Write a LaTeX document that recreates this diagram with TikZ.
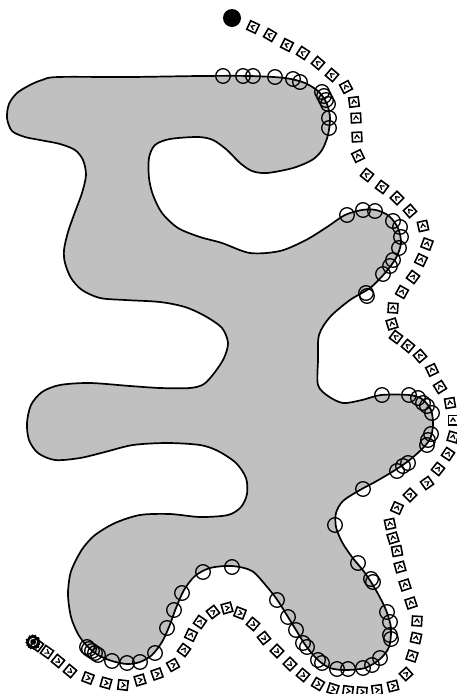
\documentclass[tikz,border=0pt]{standalone}
\definecolor{regiongray}{RGB}{192,192,192}
\tikzset{
  robot/.pic={
    \draw[line width=1.6pt] (-4.7,-4.7) rectangle (4.7,4.7);
    \draw[line width=1.2pt] (1.5,-2.4) -- (-2.0,0) -- (1.5,2.4);
  },
  contact/.style={line width=1.3pt},
  region/.style={fill=regiongray, draw=black, line width=1.7pt, line join=round},
}
\begin{document}
\begin{tikzpicture}[x=1pt,y=-1pt]
\useasboundingbox (0,0) rectangle (457,694);

% free-space region bounded by the wall
\path[region] plot[smooth cycle, tension=0.5] coordinates {
 (58,77) (130,77) (200,76) (250,76) (285,78) (305,83) (319,92) (327,104)
 (330,118) (328,135) (322,150) (312,160) (293,168) (267,173) (252,171)
 (240,163) (227,150) (213,140) (198,137) (170,139) (155,145) (149,158)
 (149,178) (153,195) (162,213) (178,228) (200,237) (222,243) (250,253)
 (280,251) (306,240) (327,227) (345,215) (362,210) (376,210) (389,216)
 (398,228) (401,243) (396,258) (385,273) (370,288) (350,300) (330,317)
 (319,335) (318,360) (318,385) (328,396) (343,403) (362,400) (381,395)
 (409,395) (422,399) (431,410) (433,425) (430,439) (421,450) (407,462)
 (392,472) (375,482) (360,490) (343,501) (336,513) (336,527) (342,542)
 (352,557) (365,573) (377,592) (386,610) (391,628) (389,647) (380,659)
 (365,668) (345,670) (330,668) (318,660) (306,646) (296,630) (288,617)
 (278,601) (268,588) (252,571) (232,566) (210,568) (195,576) (184,590)
 (176,608) (169,627) (162,642) (152,655) (140,662) (127,664) (112,661)
 (98,655) (87,646) (78,634) (71,617) (68,595) (70,575) (75,562) (83,548)
 (95,535) (115,523) (140,515) (170,514) (200,517) (228,515) (241,507)
 (247,494) (246,478) (236,463) (218,451) (200,445) (167,443) (133,445)
 (105,452) (80,458) (55,460) (38,453) (29,440) (27,423) (31,405) (42,392)
 (60,385) (90,383) (130,386) (160,388) (190,388) (204,384) (215,372)
 (224,358) (228,343) (222,328) (205,316) (185,307) (160,302) (125,300)
 (100,298) (82,290) (71,278) (65,263) (64,250) (68,232) (75,212) (82,193)
 (86,175) (83,160) (75,150) (60,144) (40,140) (25,137) (12,131) (7,118)
 (9,104) (17,93) (30,85) (42,80)
};

% wall contact points
\foreach \x/\y in {
 223/76, 243/76, 253/76, 275/77, 293/79, 300/82, 322/92, 324/96, 326/100,
 328/104, 329/118, 329/128,
 347/215, 363/210, 375/211, 393/221, 400/227, 401/237, 399/248, 393/260,
 390/266, 383/274, 366/293, 367/296,
 382/395, 409/395, 418/398, 423/403, 427/406, 432/413, 431/434, 428/440,
 427/445, 408/463, 403/466, 397/471, 363/489, 335/525,
 358/563, 371/579, 373/582, 387/612, 390/622, 390/635, 391/639, 380/658,
 372/665, 363/668, 348/669, 337/669, 322/663, 318/660, 307/647, 303/643,
 296/630, 288/617, 277/600,
 232/567, 203/572, 182/593, 174/610, 167/628, 155/653, 140/662, 127/663,
 112/661, 98/655, 95/653, 92/651, 89/649, 87/647}
  \draw[contact] (\x,\y) circle[radius=7.3pt];

% start of the run
\fill (232,18) circle[radius=9pt];

% robot poses, each turned towards the next one
\foreach \x/\y [remember=\x as \px (initially 253), remember=\y as \py (initially 27)] in {
 270/35, 287/45, 303/53, 318/63, 332/75, 346/87, 354/102, 356/118, 357/137,
 358/156, 367/175, 382/187, 397/198, 410/211, 423/226, 427/244, 421/260,
 413/277, 402/292, 393/308, 392/324, 396/337, 408/346, 420/356, 432/370,
 440/387, 450/403, 453/420, 453/437, 448/454, 438/469, 427/483, 410/495,
 397/508, 390/524, 393/538, 397/551, 400/567, 405/585, 411/603, 417/621,
 416/638, 412/656, 406/674, 393/686, 377/690, 362/692, 348/691, 333/689,
 318/684, 303/675, 290/664, 277/651, 264/638, 253/624, 240/613, 227/608,
 213/612, 200/622, 191/635, 184/650, 173/665, 157/674, 140/680, 123/685,
 106/683, 88/678, 70/671, 58/661, 47/652, 37/645, 33/642}{
  \pgfmathsetmacro\ang{atan2(\py-\y,\x-\px)}
  \pic[rotate=\ang] at (\px,\py) {robot};
}

% poses piled up where the run ends
\foreach \a in {0,25,50,75}
  \pic[rotate=\a] at (33,642) {robot};

\end{tikzpicture}
\end{document}
